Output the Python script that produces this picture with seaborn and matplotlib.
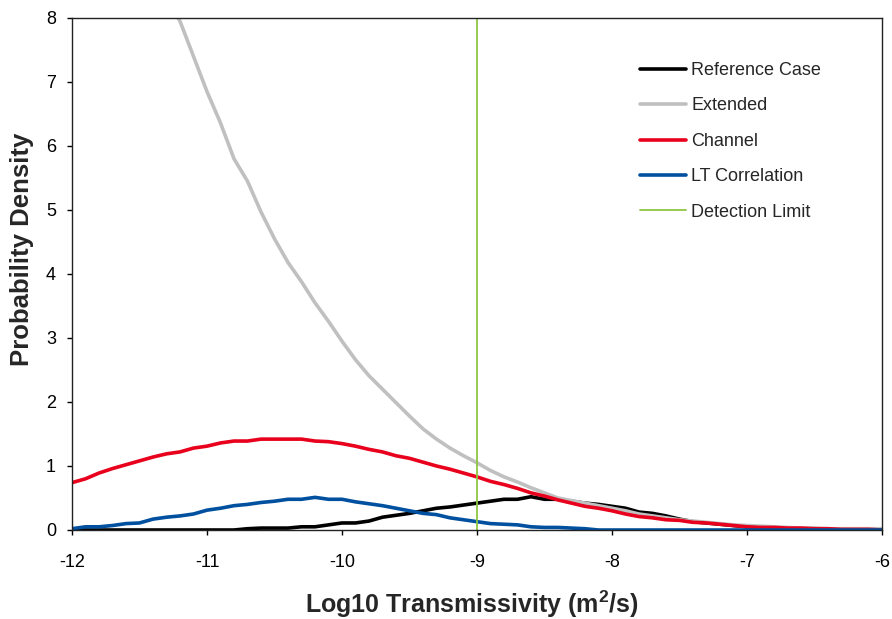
import numpy as np
import pandas as pd
import matplotlib
matplotlib.use("Agg")
import matplotlib.pyplot as plt
import seaborn as sns

# ---- data ----
log_t = [-12.0, -11.9, -11.8, -11.7, -11.6, -11.5, -11.4, -11.3, -11.2, -11.1,
         -11.0, -10.9, -10.8, -10.7, -10.6, -10.5, -10.4, -10.3, -10.2, -10.1,
         -10.0, -9.9, -9.8, -9.7, -9.6, -9.5, -9.4, -9.3, -9.2, -9.1,
         -9.0, -8.9, -8.8, -8.7, -8.6, -8.5, -8.4, -8.3, -8.2, -8.1,
         -8.0, -7.9, -7.8, -7.7, -7.6, -7.5, -7.4, -7.3, -7.2, -7.1,
         -7.0, -6.9, -6.8, -6.7, -6.6, -6.5, -6.4, -6.3, -6.2, -6.1, -6.0]

reference_case = [0.0, 0.0, 0.0, 0.0, 0.0, 0.0, 0.0, 0.0, 0.0, 0.0,
                  0.0, 0.0, 0.0, 0.02, 0.03, 0.03, 0.03, 0.05, 0.05, 0.08,
                  0.11, 0.11, 0.14, 0.20, 0.23, 0.26, 0.30, 0.34, 0.36, 0.39,
                  0.42, 0.45, 0.48, 0.48, 0.52, 0.48, 0.48, 0.45, 0.42, 0.40,
                  0.37, 0.34, 0.28, 0.26, 0.22, 0.17, 0.13, 0.11, 0.09, 0.07,
                  0.05, 0.04, 0.03, 0.03, 0.02, 0.02, 0.01, 0.01, 0.01, 0.0, 0.0]

extended = [np.nan, np.nan, np.nan, np.nan, np.nan, np.nan, np.nan, 8.3, 7.95, 7.4,
            6.85, 6.36, 5.8, 5.45, 4.97, 4.55, 4.18, 3.88, 3.55, 3.26,
            2.95, 2.66, 2.41, 2.20, 1.99, 1.78, 1.58, 1.42, 1.28, 1.16,
            1.05, 0.93, 0.83, 0.75, 0.66, 0.58, 0.50, 0.46, 0.42, 0.38,
            0.34, 0.30, 0.25, 0.22, 0.19, 0.16, 0.14, 0.12, 0.10, 0.08,
            0.07, 0.06, 0.05, 0.04, 0.03, 0.03, 0.02, 0.02, 0.02, 0.02, 0.02]

channel = [0.74, 0.80, 0.89, 0.96, 1.02, 1.08, 1.14, 1.19, 1.22, 1.28,
           1.31, 1.36, 1.39, 1.39, 1.42, 1.42, 1.42, 1.42, 1.39, 1.38,
           1.35, 1.31, 1.26, 1.22, 1.16, 1.12, 1.06, 1.00, 0.95, 0.89,
           0.83, 0.76, 0.71, 0.65, 0.58, 0.53, 0.47, 0.42, 0.37, 0.34,
           0.30, 0.25, 0.21, 0.19, 0.16, 0.15, 0.12, 0.11, 0.09, 0.07,
           0.05, 0.04, 0.04, 0.03, 0.03, 0.02, 0.02, 0.01, 0.01, 0.01, 0.0]

lt_correlation = [0.02, 0.05, 0.05, 0.07, 0.10, 0.11, 0.17, 0.20, 0.22, 0.25,
                  0.31, 0.34, 0.38, 0.40, 0.43, 0.45, 0.48, 0.48, 0.51, 0.48,
                  0.48, 0.44, 0.41, 0.38, 0.34, 0.30, 0.26, 0.24, 0.19, 0.16,
                  0.13, 0.10, 0.09, 0.08, 0.05, 0.04, 0.04, 0.03, 0.02, 0.0,
                  0.0, 0.0, 0.0, 0.0, 0.0, 0.0, 0.0, 0.0, 0.0, 0.0,
                  0.0, 0.0, 0.0, 0.0, 0.0, 0.0, 0.0, 0.0, 0.0, 0.0, 0.0]

detection_limit_x = [-9.0, -9.0]
detection_limit_y = [0.0, 8.0]

series_names = ["Reference Case", "Extended", "Channel", "LT Correlation"]
series_values = [reference_case, extended, channel, lt_correlation]
series_colors = ["#000000", "#C0C0C0", "#E8001C", "#0050A0"]

x_ticks = [-12, -11, -10, -9, -8, -7, -6]
y_ticks = [0, 1, 2, 3, 4, 5, 6, 7, 8]

# ---- style ----
sns.set_theme(style="ticks")
plt.rcParams["font.family"] = ["Liberation Sans", "DejaVu Sans"]

fig = plt.figure(figsize=(8.92, 6.19), dpi=100)
ax = fig.add_axes([72 / 892, 1 - 530 / 619, (882 - 72) / 892, (530 - 18) / 619])

for name, vals, col in zip(series_names, series_values, series_colors):
    df = pd.DataFrame({"x": log_t, "y": vals})
    sns.lineplot(data=df, x="x", y="y", ax=ax, color=col, linewidth=2.6,
                 label=name, sort=False, estimator=None)

sns.lineplot(x=detection_limit_x, y=detection_limit_y, ax=ax, color="#8DC63F",
             linewidth=1.3, label="Detection Limit", sort=False, estimator=None)

ax.set_xlim(-12, -6)
ax.set_ylim(0, 8)
ax.set_xticks(x_ticks)
ax.set_yticks(y_ticks)
ax.set_xticklabels([str(t) for t in x_ticks])
ax.set_yticklabels([str(t) for t in y_ticks])
ax.tick_params(axis="both", direction="out", length=3.6, width=1, labelsize=13,
               colors="black")
ax.tick_params(axis="x", pad=14)
ax.tick_params(axis="y", pad=8)
for s in ax.spines.values():
    s.set_visible(True)
    s.set_color("#222222")
    s.set_linewidth(1.0)

ax.set_xlabel("Log10 Transmissivity (m$^{\\mathregular{2}}$/s)", fontsize=18,
              fontweight="bold")
ax.set_ylabel("Probability Density", fontsize=18.5, fontweight="bold")
ax.xaxis.set_label_coords((472 - 72) / 810, -(604 - 530) / 512)
ax.xaxis.label.set_va("center")
ax.yaxis.set_label_coords(-(72 - 22) / 810, (530 - 249) / 512)
ax.yaxis.label.set_va("center")

leg = ax.legend(loc="upper left", bbox_to_anchor=(640 / 892, 1 - 62 / 619),
                bbox_transform=fig.transFigure, frameon=False, fontsize=13,
                handlelength=2.55, handletextpad=0.28, labelspacing=1.02,
                borderpad=0, borderaxespad=0)

fig.savefig("out.png", dpi=100)
